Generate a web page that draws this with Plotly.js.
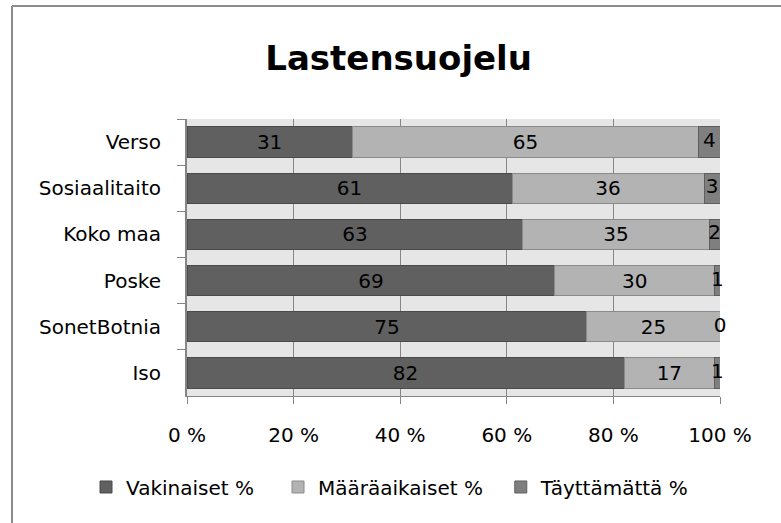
<!DOCTYPE html>
<html>
<head>
<meta charset="utf-8">
<script src="https://cdn.plot.ly/plotly-3.0.1.min.js"></script>
<style>
html,body{margin:0;padding:0;background:#fff;}
#chart{width:781px;height:523px;}
</style>
</head>
<body>
<div id="chart"></div>
<script>
const categories = ["Verso", "Sosiaalitaito", "Koko maa", "Poske", "SonetBotnia", "Iso"];
const vakinaiset = [31, 61, 63, 69, 75, 82];
const maaraaikaiset = [65, 36, 35, 30, 25, 17];
const tayttamatta = [4, 3, 2, 1, 0, 1];
const seriesNames = ["Vakinaiset %", "Määräaikaiset %", "Täyttämättä %"];
const xTicks = [0, 20, 40, 60, 80, 100];

const FONT = "'DejaVu Sans', sans-serif";
const labelFont = {family: FONT, size: 20, color: "#000"};
// trailing non-breaking spaces only widen legend spacing
const pad = n => "\u00a0".repeat(n);

const traces = [
  {
    type: "bar", orientation: "h", name: seriesNames[0] + pad(3),
    y: categories, x: vakinaiset,
    text: vakinaiset.map(String), textposition: "inside", insidetextanchor: "middle",
    textangle: 0, constraintext: "none", textfont: labelFont,
    marker: {color: "#606060", line: {color: "#4a4a4a", width: 1}},
    hoverinfo: "skip"
  },
  {
    type: "bar", orientation: "h", name: seriesNames[1] + pad(2),
    y: categories, x: maaraaikaiset,
    text: maaraaikaiset.map(String), textposition: "inside", insidetextanchor: "middle",
    textangle: 0, constraintext: "none", textfont: labelFont,
    marker: {color: "#b3b3b3", line: {color: "#8a8a8a", width: 1}},
    hoverinfo: "skip"
  },
  {
    type: "bar", orientation: "h", name: seriesNames[2],
    y: categories, x: tayttamatta,
    marker: {color: "#7f7f7f", line: {color: "#5e5e5e", width: 1}},
    hoverinfo: "skip"
  },
  {
    type: "scatter", mode: "text", showlegend: false,
    y: categories,
    x: tayttamatta.map((t, i) => vakinaiset[i] + maaraaikaiset[i] + t / 2),
    text: tayttamatta.map(String), textposition: "middle center",
    textfont: labelFont, cliponaxis: false, hoverinfo: "skip"
  }
];

const layout = {
  width: 781, height: 523,
  margin: {l: 187, r: 61, t: 119, b: 127},
  paper_bgcolor: "#ffffff",
  plot_bgcolor: "#e6e6e6",
  barmode: "stack",
  bargap: 0.34,
  font: {family: FONT, size: 20, color: "#000"},
  title: {
    text: "<b>Lastensuojelu</b>",
    font: {family: FONT, size: 34, color: "#000"},
    x: 0.397, xref: "paper", xanchor: "center",
    y: 0.888, yref: "container", yanchor: "middle"
  },
  xaxis: {
    range: [0, 100], tickvals: xTicks, ticktext: xTicks.map(v => v + " %"),
    showgrid: true, gridcolor: "#868686", gridwidth: 1,
    showline: true, linecolor: "#868686", linewidth: 1,
    ticks: "outside", ticklen: 7, tickcolor: "#868686",
    zeroline: false, fixedrange: true,
    tickfont: {family: FONT, size: 20, color: "#000"},
    ticklabelstandoff: 14
  },
  yaxis: {
    type: "category", autorange: "reversed",
    showline: true, linecolor: "#868686", linewidth: 2,
    ticks: "outside", ticklen: 8, tickcolor: "#868686", tickson: "boundaries",
    showgrid: false, zeroline: false, fixedrange: true,
    tickfont: {family: FONT, size: 20, color: "#000"},
    ticklabelstandoff: 20
  },
  legend: {
    orientation: "h", x: (86 - 187) / 533, xanchor: "left", y: -0.3285, yanchor: "middle",
    font: {family: FONT, size: 20, color: "#000"},
    traceorder: "normal", itemclick: false, itemdoubleclick: false
  },
  shapes: [
    {type: "line", xref: "paper", yref: "paper",
     x0: (12 - 187) / 533, x1: (12 - 187) / 533, y0: (396 - 6) / 277, y1: (396 - 523) / 277,
     line: {color: "#8c8c8c", width: 2}},
    {type: "line", xref: "paper", yref: "paper",
     x0: (12 - 187) / 533, x1: (781 - 187) / 533, y0: (396 - 6) / 277, y1: (396 - 6) / 277,
     line: {color: "#8c8c8c", width: 2}}
  ],
  showlegend: true
};

Plotly.newPlot("chart", traces, layout, {displayModeBar: false, staticPlot: true});
</script>
</body>
</html>
